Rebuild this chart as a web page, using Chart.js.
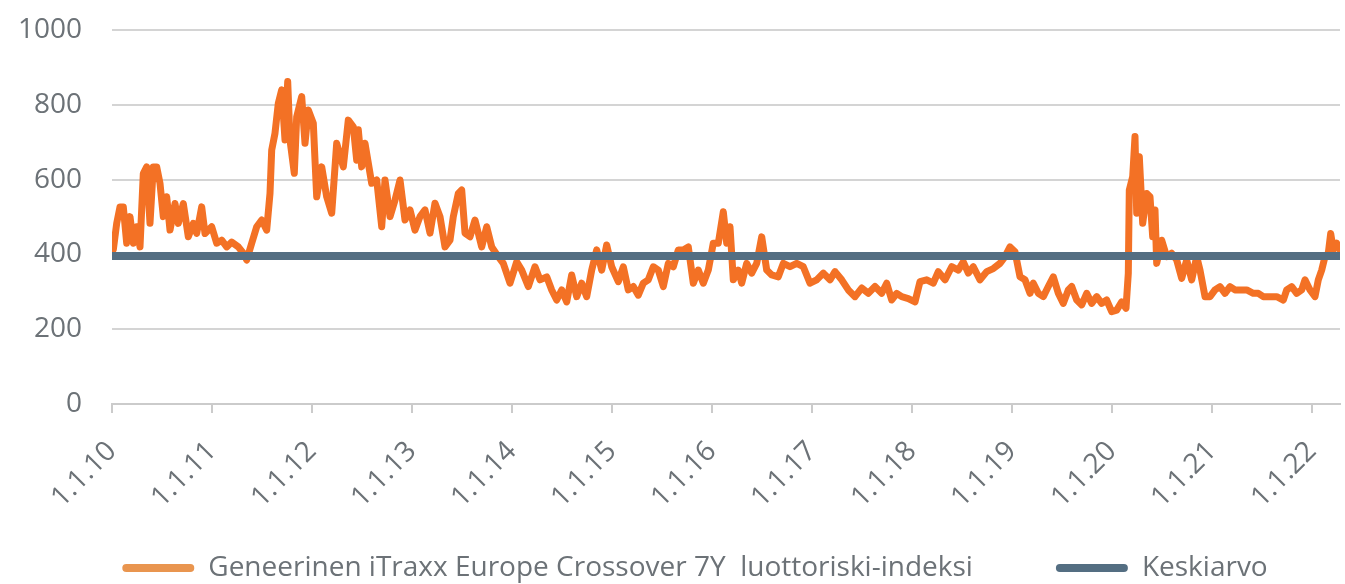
<!DOCTYPE html>
<html lang="fi">
<head>
<meta charset="utf-8">
<script src="https://cdn.jsdelivr.net/npm/chart.js@4.4.1/dist/chart.umd.min.js"></script>
<style>
  html, body { margin: 0; padding: 0; background: #fff; }
  #wrap { width: 1345px; height: 584px; position: relative; }
</style>
</head>
<body>
<div id="wrap"><canvas id="chart"></canvas></div>
<script>
// Ajankohdat desimaalivuosina ja indeksin arvot (luettu kuvasta)
const ajankohdat = [
  2010.00, 2010.013, 2010.047, 2010.08, 2010.113, 2010.147, 2010.18, 2010.213, 2010.247, 2010.28,
  2010.313, 2010.347, 2010.38, 2010.413, 2010.447, 2010.48, 2010.513, 2010.547, 2010.58, 2010.63,
  2010.663, 2010.713, 2010.763, 2010.813, 2010.847, 2010.897, 2010.93, 2010.997, 2011.047, 2011.097,
  2011.147, 2011.197, 2011.263, 2011.313, 2011.347, 2011.397, 2011.447, 2011.497, 2011.547, 2011.58,
  2011.597, 2011.63, 2011.663, 2011.697, 2011.73, 2011.757, 2011.78, 2011.823, 2011.847, 2011.897,
  2011.93, 2011.963, 2012.013, 2012.047, 2012.097, 2012.147, 2012.197,
  2012.247, 2012.313, 2012.363, 2012.413, 2012.447, 2012.463, 2012.497, 2012.53, 2012.597, 2012.647,
  2012.697, 2012.73, 2012.78, 2012.83, 2012.88, 2012.93, 2012.98, 2013.03, 2013.08, 2013.13,
  2013.18, 2013.23, 2013.28, 2013.33, 2013.38, 2013.413, 2013.463, 2013.497, 2013.53, 2013.58,
  2013.63, 2013.697, 2013.747, 2013.797, 2013.863, 2013.913, 2013.98,
  2014.047, 2014.097, 2014.163, 2014.23, 2014.28, 2014.347, 2014.397, 2014.447, 2014.497,
  2014.547, 2014.597, 2014.647, 2014.697, 2014.747, 2014.797, 2014.847, 2014.897, 2014.947, 2014.997,
  2015.063, 2015.113, 2015.163, 2015.213, 2015.263, 2015.313, 2015.363, 2015.413, 2015.463, 2015.513,
  2015.563, 2015.613, 2015.663, 2015.713, 2015.763, 2015.813, 2015.863, 2015.913, 2015.963, 2016.013,
  2016.063, 2016.113, 2016.147, 2016.18, 2016.213, 2016.263, 2016.297, 2016.347, 2016.397, 2016.447,
  2016.497, 2016.547, 2016.597, 2016.663, 2016.713, 2016.78, 2016.847, 2016.913, 2016.98, 2017.047,
  2017.113, 2017.18, 2017.23, 2017.297, 2017.363, 2017.43, 2017.497, 2017.563, 2017.63, 2017.697,
  2017.747, 2017.797, 2017.847, 2017.897, 2017.963, 2018.03, 2018.08, 2018.147, 2018.213, 2018.263,
  2018.33, 2018.397, 2018.463, 2018.513, 2018.563, 2018.613, 2018.68, 2018.747, 2018.813, 2018.88,
  2018.93, 2018.98, 2019.03, 2019.08, 2019.13, 2019.18, 2019.213, 2019.263, 2019.313, 2019.363,
  2019.413, 2019.463, 2019.513, 2019.563, 2019.597, 2019.647, 2019.697, 2019.747, 2019.797, 2019.847,
  2019.897, 2019.947, 2019.997, 2020.047, 2020.097, 2020.14, 2020.163, 2020.173, 2020.207, 2020.23,
  2020.247, 2020.273, 2020.307, 2020.347, 2020.38, 2020.407, 2020.43, 2020.447, 2020.497, 2020.547,
  2020.597, 2020.647, 2020.697, 2020.747, 2020.797, 2020.847, 2020.88, 2020.93, 2020.98, 2021.03,
  2021.08, 2021.13, 2021.18, 2021.23, 2021.28, 2021.347, 2021.413, 2021.463, 2021.513, 2021.58,
  2021.647, 2021.713, 2021.747, 2021.797, 2021.847, 2021.897, 2021.93, 2021.98, 2022.03, 2022.063,
  2022.097, 2022.13, 2022.163, 2022.187, 2022.213, 2022.247, 2022.28
];

const indeksi = [
  447, 412, 483, 527, 527, 430, 501, 430, 474, 420,
  616, 634, 483, 634, 634, 590, 501, 554, 465, 536,
  483, 536, 447, 483, 456, 527, 456, 474, 430, 438,
  420, 433, 420, 403, 385, 430, 474, 492, 465, 563,
  679, 724, 804, 840, 706, 862, 706, 617, 768, 822,
  697, 786, 751, 554, 634, 554, 510,
  697, 634, 759, 741, 652, 733, 634, 697, 590, 599,
  474, 599, 501, 545, 599, 492, 519, 465, 501, 519,
  457, 537, 501, 420, 438, 501, 563, 572, 457, 447,
  492, 420, 474, 420, 394, 376, 323,
  380, 358, 314, 367, 332, 340, 305, 278, 305,
  273, 345, 287, 323, 287, 358, 412, 358, 425, 367,
  327, 367, 305, 314, 291, 323, 332, 367, 358, 314,
  376, 367, 412, 412, 420, 323, 358, 323, 358, 430,
  430, 514, 430, 474, 332, 358, 323, 376, 350, 376,
  447, 358, 345, 340, 376, 367, 376, 367, 323, 332,
  350, 332, 354, 332, 305, 287, 310, 296, 314, 296,
  323, 278, 296, 287, 282, 273, 327, 332, 323, 354,
  332, 367, 358, 380, 350, 367, 332, 354, 362, 376,
  394, 420, 407, 340, 332, 296, 323, 296, 287, 314,
  340, 296, 269, 305, 314, 278, 265, 296, 269, 287,
  269, 278, 247, 251, 273, 256, 349, 572, 608, 715,
  510, 661, 483, 563, 554, 447, 519, 376, 438, 394,
  403, 385, 336, 385, 332, 394, 358, 287, 287, 305,
  314, 296, 314, 305, 305, 305, 296, 296, 287, 287,
  287, 278, 305, 314, 296, 305, 332, 305, 287, 332,
  358, 394, 403, 456, 412, 430, 412
];

const keskiarvo = 396;
const tikit = ['1.1.10', '1.1.11', '1.1.12', '1.1.13', '1.1.14', '1.1.15', '1.1.16',
               '1.1.17', '1.1.18', '1.1.19', '1.1.20', '1.1.21', '1.1.22'];
const sarjat = ['Geneerinen iTraxx Europe Crossover 7Y  luottoriski-indeksi', 'Keskiarvo'];

const fontti = { family: "'Open Sans', sans-serif", size: 28, weight: 400 };
const tekstinVari = '#6c7277';
const oranssi = '#F37125';
const sininen = '#546E82';

const alku = ajankohdat[0];
const loppu = ajankohdat[ajankohdat.length - 1];

// siirretään selitettä hieman oikealle, kuten alkuperäisessä kuvassa
const selitteenSiirto = {
    id: 'selitteenSiirto',
    afterLayout(chart) {
        chart.legend.left += 25;
        chart.legend.right += 25;
    }
};

new Chart(document.getElementById('chart'), {
    type: 'line',
    data: {
        datasets: [
            {
                label: sarjat[0],
                data: ajankohdat.map((x, i) => ({ x: x, y: indeksi[i] })),
                borderColor: oranssi,
                backgroundColor: '#E9954F',
                borderWidth: 7,
                borderJoinStyle: 'round',
                borderCapStyle: 'round',
                pointRadius: 0,
                tension: 0,
                order: 1
            },
            {
                label: sarjat[1],
                data: [{ x: alku, y: keskiarvo }, { x: loppu, y: keskiarvo }],
                borderColor: sininen,
                backgroundColor: sininen,
                borderWidth: 8,
                borderCapStyle: 'round',
                pointRadius: 0,
                order: 0
            }
        ]
    },
    options: {
        responsive: true,
        maintainAspectRatio: false,
        animation: false,
        layout: { padding: { top: 30, right: 5, left: 0, bottom: -8 } },
        scales: {
            x: {
                type: 'linear',
                min: alku,
                max: loppu,
                ticks: {
                    stepSize: 1,
                    includeBounds: false,
                    autoSkip: false,
                    minRotation: 45,
                    maxRotation: 45,
                    padding: 22,
                    color: tekstinVari,
                    font: fontti,
                    callback: v => Number.isInteger(v) ? tikit[v - 2010] : ''
                },
                grid: { drawOnChartArea: false, color: '#cbcbcb', lineWidth: 2, tickLength: 9 },
                border: { color: '#cbcbcb', width: 2 },
                afterFit: scale => {
                    scale.height = 67;
                    scale.paddingLeft = 0;
                    scale.paddingRight = 0;
                    // kiertyneet tekstit saavat mennä selitteen puolelle
                    scale._computeLabelArea = () => undefined;
                }
            },
            y: {
                min: 0,
                max: 1000,
                ticks: { stepSize: 200, padding: 30, color: tekstinVari, font: fontti, callback: v => String(v) },
                grid: { color: '#d4d4d4', lineWidth: 2, drawTicks: false },
                border: { display: false },
                afterFit: scale => {
                    scale.width = 112;
                    scale.paddingTop = 0;
                    scale.paddingBottom = 0;
                }
            }
        },
        plugins: {
            tooltip: { enabled: false },
            legend: {
                position: 'bottom',
                labels: {
                    color: tekstinVari,
                    font: fontti,
                    boxWidth: 72,
                    boxHeight: 8,
                    useBorderRadius: true,
                    borderRadius: 4,
                    padding: 83,
                    sort: (a, b) => a.datasetIndex - b.datasetIndex,
                    generateLabels: chart => {
                        const items = Chart.defaults.plugins.legend.labels.generateLabels(chart);
                        items.forEach(it => {
                            it.fillStyle = chart.data.datasets[it.datasetIndex].backgroundColor;
                            it.lineWidth = 0;
                            it.strokeStyle = 'rgba(0,0,0,0)';
                        });
                        return items;
                    }
                }
            }
        }
    },
    plugins: [selitteenSiirto]
});
</script>
</body>
</html>
